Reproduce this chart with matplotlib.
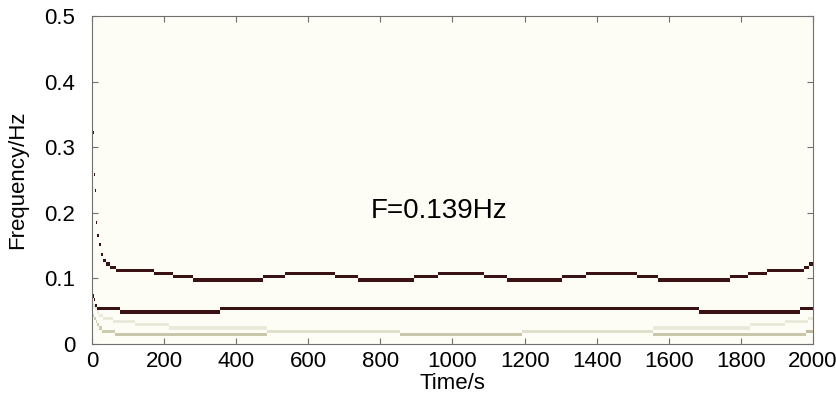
import numpy as np
import matplotlib
matplotlib.use("Agg")
import matplotlib.pyplot as plt
from matplotlib.colors import LinearSegmentedColormap

# frequency resolution of the time-frequency map
df = 1 / 205
dt = 2.5
t_max = 2000

# ridge 1 (dark, ~0.1 Hz): piecewise constant, edges in s, frequency in Hz
t1_edges = [2, 4, 6, 8, 10, 13, 16, 20, 25, 31, 40, 50, 67, 172, 225, 280, 474, 535,
            674, 738, 893, 960, 1087, 1151, 1306, 1370, 1512, 1570, 1770, 1820,
            1872, 1975, 1990, 2000]
f1 = [0.32, 0.29, 0.26, 0.235, 0.21, 0.185, 0.165, 0.15, 0.138, 0.127, 0.122, 0.117,
      0.1122, 0.1074, 0.1025, 0.0976, 0.1025, 0.1074, 0.1025, 0.0976, 0.1025,
      0.1074, 0.1025, 0.0976, 0.1025, 0.1074, 0.1025, 0.0976, 0.1025, 0.1074,
      0.1122, 0.117, 0.122]
a1 = [1.0] * len(f1)

# ridge 2 (dark, ~0.05 Hz)
t2_edges = [0, 4, 8, 14, 22, 78, 355, 1686, 1964, 2000]
f2 = [0.073, 0.066, 0.0586, 0.0537, 0.0537, 0.0488, 0.0537, 0.0488, 0.0537]
a2 = [1.0] * len(f2)

# ridge 3 (pale)
t3_edges = [3, 8, 14, 20, 30, 58, 119, 216, 485, 855, 1193, 1556, 1825, 1922, 1986, 2000]
f3 = [0.059, 0.054, 0.049, 0.044, 0.039, 0.0342, 0.0293, 0.0244, 0.0195, 0.0146,
      0.0195, 0.0244, 0.0293, 0.0342, 0.039]
a3 = [0.15, 0.15, 0.15, 0.15, 0.15, 0.15, 0.15, 0.15, 0.2, 0.3, 0.2, 0.15, 0.15, 0.15, 0.15]

# ridge 4 (olive)
t4_edges = [2, 5, 9, 14, 20, 28, 62, 485, 855, 1193, 1556, 1980, 2000]
f4 = [0.044, 0.039, 0.0342, 0.0293, 0.0244, 0.0195, 0.0146, 0.0195, 0.0146,
      0.0195, 0.0146, 0.0195]
a4 = [0.3, 0.3, 0.3, 0.3, 0.3, 0.3, 0.32, 0.2, 0.32, 0.2, 0.32, 0.35]

ridges = [(t1_edges, f1, a1), (t2_edges, f2, a2), (t3_edges, f3, a3), (t4_edges, f4, a4)]

t_grid = np.arange(0, t_max + dt, dt)
t_mid = (t_grid[:-1] + t_grid[1:]) / 2
nbins = int(0.5 / df) + 2
f_grid = (np.arange(nbins + 1) - 0.5) * df
amp = np.zeros((nbins, len(t_mid)))
for edges, fr, am in ridges:
    edges = np.asarray(edges)
    idx = np.searchsorted(edges, t_mid, side="right") - 1
    ok = (idx >= 0) & (idx < len(fr))
    for j in np.where(ok)[0]:
        k = int(round(fr[idx[j]] / df))
        amp[k, j] = max(amp[k, j], am[idx[j]])

cmap = LinearSegmentedColormap.from_list("ridge", [
    (0.0, (253/255, 253/255, 246/255)),
    (0.15, (234/255, 234/255, 218/255)),
    (0.3, (204/255, 204/255, 176/255)),
    (0.6, (150/255, 95/255, 90/255)),
    (1.0, (58/255, 18/255, 20/255)),
])

plt.rcParams['font.family'] = ['Liberation Sans', 'DejaVu Sans']
fig = plt.figure(figsize=(8.37, 3.97), dpi=100)
ax = fig.add_axes([0.1099, 0.1335, 0.8614, 0.8262])
ax.pcolormesh(t_grid, f_grid, amp, cmap=cmap, vmin=0, vmax=1, shading="flat")
ax.set_xlim(0, 2000)
ax.set_ylim(0, 0.5)
ax.set_xticks(np.arange(0, 2001, 200))
ax.set_yticks([0, 0.1, 0.2, 0.3, 0.4, 0.5])
ax.set_yticklabels(["0", "0.1", "0.2", "0.3", "0.4", "0.5"])
ax.tick_params(direction="in", top=True, right=True, length=4, width=0.8,
               color="#707070", labelsize=16)
ax.tick_params(axis="y", pad=12)
ax.tick_params(axis="x", pad=5)
for s in ax.spines.values():
    s.set_color("#707070")
    s.set_linewidth(0.8)
ax.set_xlabel("Time/s", fontsize=16, labelpad=1)
ax.set_ylabel("Frequency/Hz", fontsize=16, labelpad=12)
ax.text(963, 0.203, "F=0.139Hz", fontsize=20, ha="center", va="center")

fig.savefig("out.png", dpi=100)
